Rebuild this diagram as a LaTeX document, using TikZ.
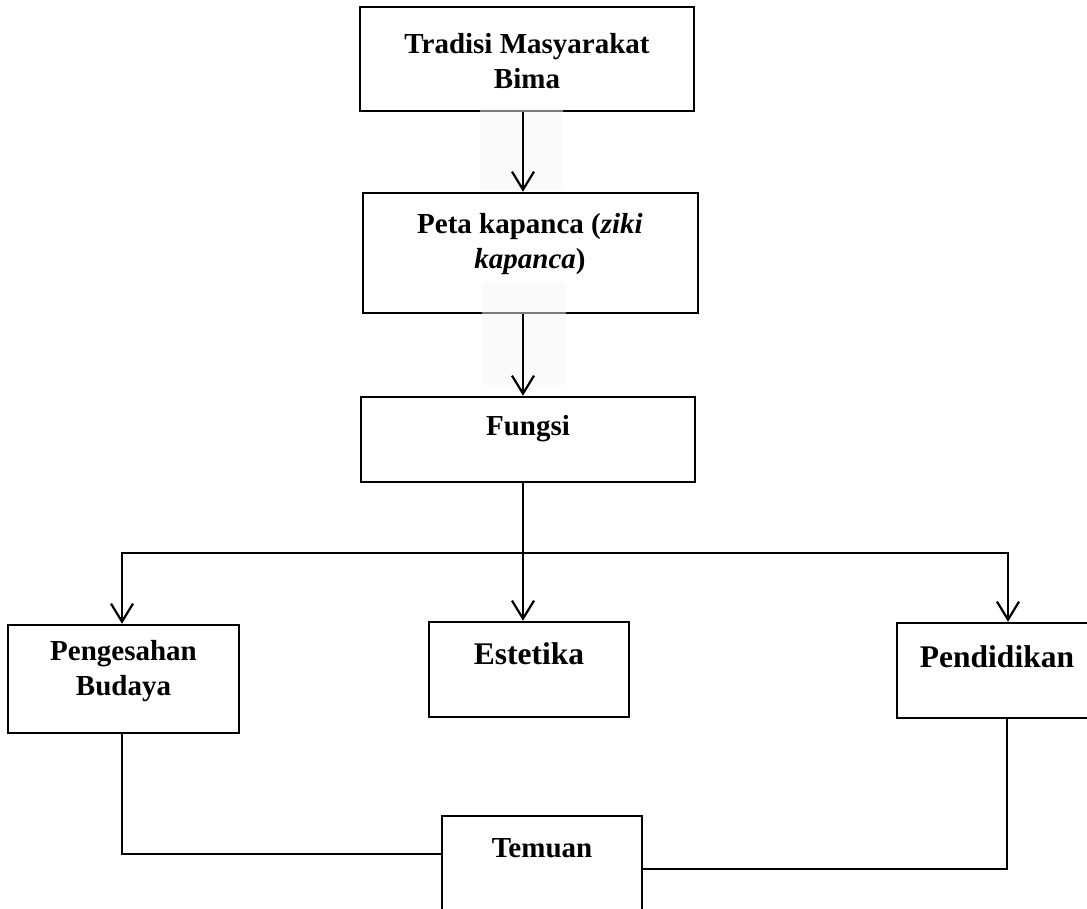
\documentclass[tikz,border=0pt]{standalone}
\usepackage{fontspec}
\setmainfont{Liberation Serif}
\usetikzlibrary{arrows.meta}
\begin{document}
\begin{tikzpicture}[x=1pt,y=-1pt,
  box/.style={draw=black, line width=2.5pt, rectangle, inner sep=0pt},
  lbl/.style={font=\fontsize{29}{35}\selectfont\bfseries, align=center, inner sep=0pt},
  lblb/.style={font=\fontsize{31.5}{37}\selectfont\bfseries, align=center, inner sep=0pt},
  conn/.style={draw=black, line width=2.2pt},
  arr/.style={conn, -{Straight Barb[length=18pt,width=22pt,line width=2.2pt]}},
  haze/.style={fill=black!3, fill opacity=0.5}]
\useasboundingbox (0,0) rectangle (1087,909);
\fill[white] (0,0) rectangle (1087,909);
% boxes
\node[box, minimum width=334pt, minimum height=104pt] (b1) at (527,59) {};
\node[box, minimum width=335pt, minimum height=120pt] (b2) at (530.5,253) {};
\node[box, minimum width=334pt, minimum height=85pt] (b3) at (528,439.5) {};
\node[box, minimum width=231pt, minimum height=108pt] (b4) at (123.5,679) {};
\node[box, minimum width=200pt, minimum height=95pt] (b5) at (529,669.5) {};
\node[box, minimum width=200pt, minimum height=95pt] (b6) at (997,670.5) {};
\node[box, minimum width=200pt, minimum height=114pt] (b7) at (542,873) {};
% texts
\node[lbl] (t1) at (527,61) {Tradisi Masyarakat\\Bima};
\node[lbl] (t2) at (530,244) {Peta kapanca (\textit{ziki}\\\textit{kapanca})};
\node[lbl] (t3) at (528,429) {Fungsi};
\node[lbl] (t4) at (123.5,671) {Pengesahan\\Budaya};
\node[lblb] (t5) at (529,654) {Estetika};
\node[lblb] (t6) at (997,657) {Pendidikan};
\node[lbl] (t7) at (542,848) {Temuan};
% faint artefacts behind the upper arrows
\fill[haze] (480,108) rectangle (563,190);
\fill[haze] (482,283) rectangle (566,385);
% helper coordinates
\coordinate (sp) at (523,0);
\coordinate (j) at (523,553);
\coordinate (hl) at (122,553);
\coordinate (hr) at (1008,553);
\coordinate (tl) at (0,854);
\coordinate (tr) at (0,869);
% connectors
\draw[arr] (b1.south -| sp) -- (b2.north -| sp);
\draw[arr] (b2.south -| sp) -- (b3.north -| sp);
\draw[conn] (b3.south -| sp) -- (j);
\draw[arr] (j) -- (b5.north -| j);
\draw[arr] (j) -| (b4.north -| hl);
\draw[arr] (j) -| (b6.north -| hr);
\draw[conn] (b4.south -| hl) |- (b7.west |- tl);
\draw[conn] (b6.south -| 1007,0) |- (b7.east |- tr);
\end{tikzpicture}
\end{document}
